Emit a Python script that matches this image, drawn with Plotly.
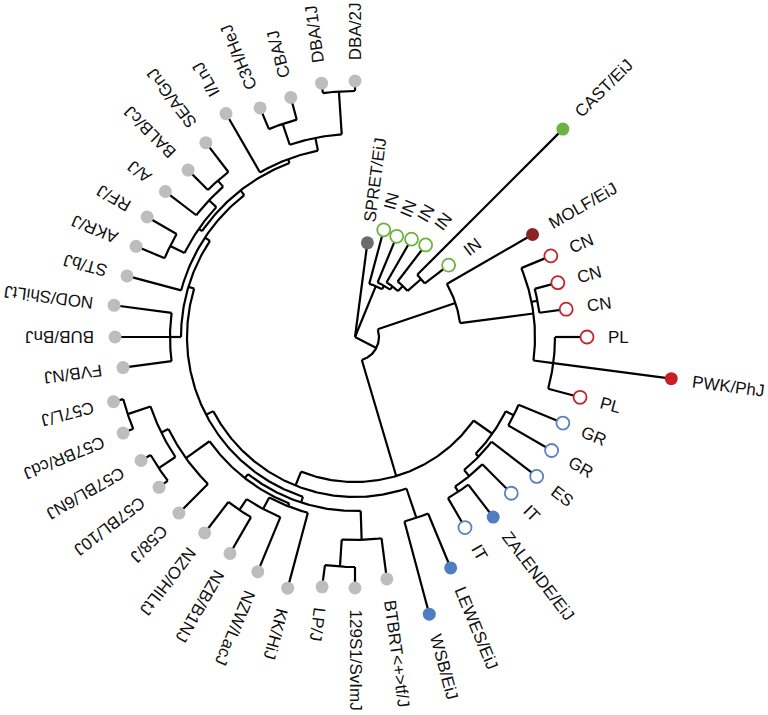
import numpy as np
import plotly.graph_objects as go

# ---------------- data ----------------
# leaves in drawing order (clockwise, starting next to the root at the top)
leaf_names = ["SPRET/EiJ", "IN", "IN", "IN", "IN", "CAST/EiJ", "IN", "MOLF/EiJ",
              "CN", "CN", "CN", "PL", "PWK/PhJ", "PL", "GR", "GR", "ES", "IT",
              "ZALENDE/EiJ", "IT", "LEWES/EiJ", "WSB/EiJ", "BTBRT<+>tf/J",
              "129S1/SvImJ", "LP/J", "KK/HiJ", "NZW/LacJ", "NZB/B1NJ", "NZO/HILtJ",
              "C58/J", "C57BL/10J", "C57BL/6NJ", "C57BR/cdJ", "C57L/J", "FVB/NJ",
              "BUB/BnJ", "NOD/ShiLtJ", "ST/bJ", "AKR/J", "RF/J", "A/J", "BALB/cJ",
              "SEA/GnJ", "I/LnJ", "C3H/HeJ", "CBA/J", "DBA/1J", "DBA/2J"]
# distance of each tip from the root
leaf_radius = [95, 111, 109, 113, 116, 294, 118, 205,
               212, 210, 213, 232, 319, 233, 225, 227, 229, 221,
               227, 220, 250, 287, 244,
               251, 252, 260, 254, 250, 247,
               249, 247, 247, 251, 250, 234,
               240, 243, 236, 237, 240, 239, 236,
               245, 258, 248, 248, 256, 256]
leaf_group = ["spretus", "cas_wild", "cas_wild", "cas_wild", "cas_wild", "cas_strain", "cas_wild", "molossinus",
              "mus_wild", "mus_wild", "mus_wild", "mus_wild", "mus_strain", "mus_wild", "dom_wild", "dom_wild",
              "dom_wild", "dom_wild", "dom_strain", "dom_wild", "dom_strain", "dom_strain", "classical",
              "classical", "classical", "classical", "classical", "classical", "classical",
              "classical", "classical", "classical", "classical", "classical", "classical",
              "classical", "classical", "classical", "classical", "classical", "classical", "classical",
              "classical", "classical", "classical", "classical", "classical", "classical"]
leaf_parent = ["root", "cas0", "cas1", "cas2", "cas3", "cas4", "cas4", "B",
               "C", "D", "D", "E", "E", "E", "GRp", "GRp", "IZIE", "IZI",
               "IZ", "IZ", "WL", "WL", "gLPB",
               "gLP", "gLP", "gNZK", "gNZ", "gNZOB", "gNZOB",
               "gC5C8", "gC57b", "gC57b", "gC57a", "gC57a", "gNBF",
               "gNBF", "gNBF", "gU2", "gRA", "gRA", "gSBA", "gSB",
               "gSB", "gTop", "gCC", "gCC", "gDBA", "gDBA"]

# internal nodes: parent and distance from root
node_names = ["root", "cas0", "cas1", "cas2", "cas3", "cas4", "A", "B", "C", "D", "E",
              "DOM", "BLUE", "GRp", "IZIE", "IZI", "IZ", "X", "WL", "gray",
              "gU", "gU2", "gU3", "gTop", "gCD", "gDBA", "gCC", "gBalb", "gSBA", "gSB", "gRA",
              "gNBF", "gL", "gL2", "gC5C8", "gC57", "gC57a", "gC57b", "gNZK", "gNZ", "gNZOB",
              "gLPB", "gLP"]
node_parent = [None, "root", "cas0", "cas1", "cas2", "cas3", "root", "A", "B", "C", "C",
               "A", "DOM", "BLUE", "BLUE", "IZIE", "IZI", "DOM", "X", "X",
               "gray", "gU", "gU2", "gU3", "gTop", "gCD", "gCD", "gU3", "gBalb", "gSBA", "gBalb",
               "gU", "gray", "gL", "gL2", "gC5C8", "gC57", "gC57", "gL2", "gNZK", "gNZ",
               "gL", "gLPB"]
node_radius = [0, 55, 59, 63, 70, 88, 24, 106, 180, 186, 200,
               145, 168, 177, 172, 180, 186, 160, 191, 168,
               174, 180, 186, 190, 203, 246, 225, 190, 200, 208, 206,
               185, 174, 179, 208, 216, 240, 236, 182, 195, 208,
               203, 230]

# ---------------- styles ----------------
STEP = 7.5          # degrees between neighbouring tips
START = 82.5        # angle of first tip
CX, CY = 355, 337   # root position in the 768 x 715 canvas
W, H = 768, 715
FONT_SIZE = 17
LABEL_GAP = 21

group_style = {  # fill, outline
    "spretus":    ("#6b6b6b", "#6b6b6b"),
    "cas_wild":   ("#ffffff", "#6db33f"),
    "cas_strain": ("#6db33f", "#6db33f"),
    "molossinus": ("#8b2525", "#8b2525"),
    "mus_wild":   ("#ffffff", "#c0272d"),
    "mus_strain": ("#c62026", "#c62026"),
    "dom_wild":   ("#ffffff", "#5a82c0"),
    "dom_strain": ("#4f7dc1", "#4f7dc1"),
    "classical":  ("#bdbdbd", "#bdbdbd"),
}

# Arial / Liberation Sans advance widths (per 1000 em) to size labels
cw = {c: 667 for c in "ABEKPSVXY"}
cw.update({c: 722 for c in "CDHNRUw"})
cw.update({"F": 611, "T": 611, "Z": 611, "G": 778, "O": 778, "Q": 778, "I": 278, "J": 500,
           "L": 556, "M": 833, "W": 944, "a": 556, "b": 556, "c": 500, "d": 556, "e": 556,
           "f": 278, "h": 556, "i": 222, "j": 222, "l": 222, "m": 833, "n": 556, "r": 333,
           "t": 278, "u": 556, "v": 500, "/": 278, "<": 584, ">": 584, "+": 584})
cw.update({d: 556 for d in "0123456789"})


def text_width(s):
    return sum(cw.get(ch, 556) for ch in s) / 1000.0 * FONT_SIZE


# ---------------- layout of the tree ----------------
children = {n: [] for n in node_names}
parent_of, radius, theta = {}, {}, {}
for n, p, r in zip(node_names, node_parent, node_radius):
    parent_of[n] = p
    radius[n] = r
    if p is not None:
        children[p].append(n)
leaf_ids = []
for i, (p, r) in enumerate(zip(leaf_parent, leaf_radius)):
    lid = "leaf%d" % i
    leaf_ids.append(lid)
    parent_of[lid] = p
    radius[lid] = r
    theta[lid] = START - STEP * i
    children[p].append(lid)


def node_angle(n):
    if n not in theta:
        a = [node_angle(c) for c in children[n]]
        theta[n] = (min(a) + max(a)) / 2.0
    return theta[n]


node_angle("root")

xs, ys = [], []
for n in node_names + leaf_ids:
    p = parent_of[n]
    if p is None:
        continue
    t = np.radians(theta[n])
    xs += [radius[p] * np.cos(t), radius[n] * np.cos(t), None]
    ys += [radius[p] * np.sin(t), radius[n] * np.sin(t), None]
for n in node_names:
    r = radius[n]
    if r == 0:
        continue
    a = [theta[c] for c in children[n]]
    k = int((max(a) - min(a)) / 0.5) + 2
    ts = np.radians(np.linspace(min(a), max(a), k))
    xs += list(r * np.cos(ts)) + [None]
    ys += list(r * np.sin(ts)) + [None]

fig = go.Figure()
fig.add_trace(go.Scatter(x=xs, y=ys, mode="lines",
                         line=dict(color="#000000", width=2.2),
                         hoverinfo="skip", showlegend=False))

lt = np.radians([theta[l] for l in leaf_ids])
lx = np.array(leaf_radius) * np.cos(lt)
ly = np.array(leaf_radius) * np.sin(lt)
fills = [group_style[g][0] for g in leaf_group]
edges = [group_style[g][1] for g in leaf_group]
widths = [1.8 if group_style[g][0] == "#ffffff" else 0 for g in leaf_group]
fig.add_trace(go.Scatter(x=lx, y=ly, mode="markers",
                         marker=dict(size=13, color=fills,
                                     line=dict(color=edges, width=widths)),
                         text=leaf_names, hoverinfo="text", showlegend=False))

annotations = []
for name, l in zip(leaf_names, leaf_ids):
    a = theta[l]
    rc = radius[l] + LABEL_GAP + text_width(name) / 2.0
    t = np.radians(a)
    ang = -a
    ang = (ang + 180) % 360 - 180
    annotations.append(dict(
        x=rc * np.cos(t), y=rc * np.sin(t), xref="x", yref="y",
        text=name.replace("<", "&lt;").replace(">", "&gt;"),
        showarrow=False, textangle=ang, xanchor="center", yanchor="middle",
        font=dict(family="Liberation Sans, Arial, Helvetica, sans-serif",
                  size=FONT_SIZE, color="#111111")))

fig.update_layout(
    width=W, height=H, margin=dict(l=0, r=0, t=0, b=0),
    paper_bgcolor="white", plot_bgcolor="white",
    xaxis=dict(range=[-CX, W - CX], visible=False, fixedrange=True),
    yaxis=dict(range=[-(H - CY), CY], visible=False, fixedrange=True),
    annotations=annotations, showlegend=False,
)

fig.write_html("out.html", config={"displayModeBar": False},
               post_script="document.body.style.margin='0';document.body.style.overflow='hidden';")
